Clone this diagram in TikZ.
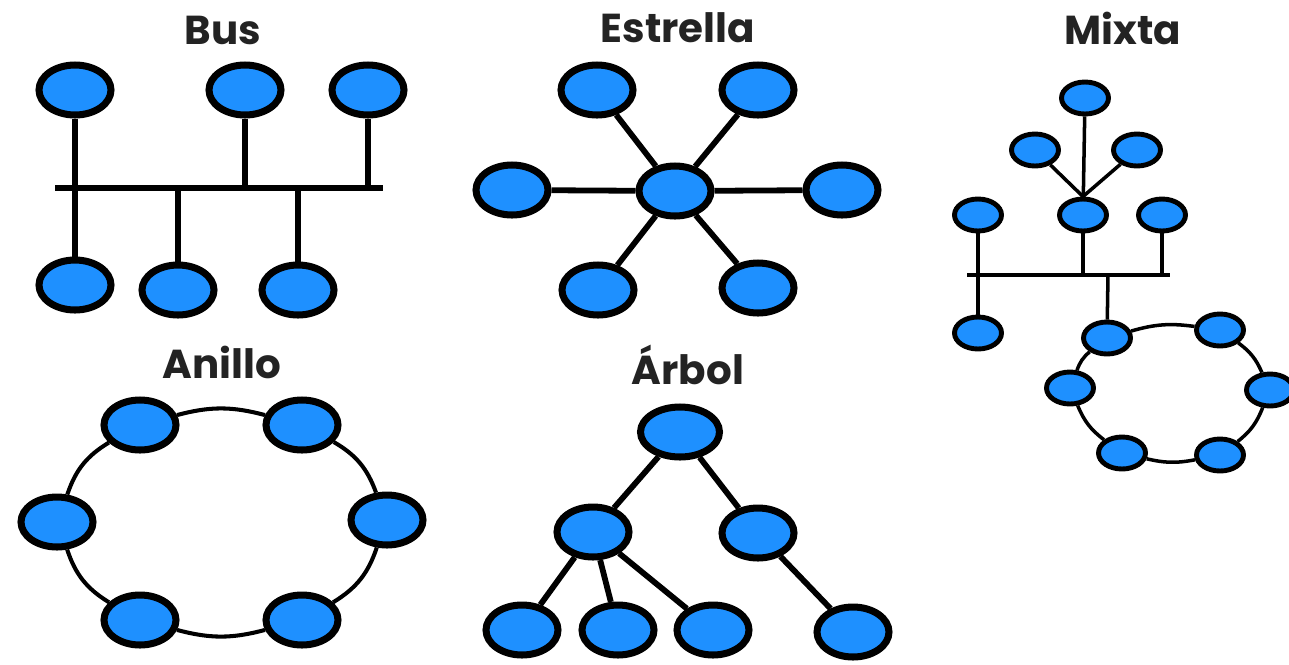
\documentclass[tikz,border=0pt]{standalone}
\usepackage{fontspec}
\usetikzlibrary{shapes.geometric}
\newfontfamily\titlefont{Poppins}
\definecolor{nodeblue}{RGB}{30,144,255}
\definecolor{titlegray}{RGB}{35,35,35}

\begin{document}
\begin{tikzpicture}[x=0.02cm,y=-0.02cm,
  host/.style={ellipse, draw=black, fill=nodeblue, line width=4pt,
               minimum width=1.44cm, minimum height=1.0cm, inner sep=0pt},
  smallhost/.style={host, line width=2.8pt, minimum width=0.94cm, minimum height=0.64cm},
  roothost/.style={host, minimum width=1.58cm},
  link/.style={line width=3.3pt},
  ringlink/.style={line width=2.3pt},
  minilink/.style={line width=2pt},
  title/.style={font=\titlefont\fontsize{23}{25}\selectfont\bfseries, text=titlegray}]

\useasboundingbox[fill=white] (0,0) rectangle (1289,664);

% ---------------- Bus ----------------
\node[title] (tbus) at (223,30) {Bus};
\node[host] (bu1) at (75,90) {};
\node[host] (bu2) at (245,90) {};
\node[host] (bu3) at (368,90) {};
\node[host] (bd1) at (75,285) {};
\node[host] (bd2) at (178,290) {};
\node[host] (bd3) at (298,290) {};
\coordinate (busW) at (55,188);
\coordinate (busE) at (383,188);
\draw[link] (busW) -- (busE);
\draw[link] (bu1) -- (bd1);
\draw[link] (bu2) -- (bu2 |- busW);
\draw[link] (bu3) -- (bu3 |- busW);
\draw[link] (bd2) -- (bd2 |- busW);
\draw[link] (bd3) -- (bd3 |- busW);

% ---------------- Estrella ----------------
\node[title] (tstar) at (678,28) {Estrella};
\node[host] (hub) at (675,191) {};
\node[host] (s1) at (597,90) {};
\node[host] (s2) at (758,90) {};
\node[host] (s3) at (512,190) {};
\node[host] (s4) at (842,190) {};
\node[host] (s5) at (598,290) {};
\node[host] (s6) at (758,288) {};
\foreach \s in {s1,s2,s3,s4,s5,s6}
  \draw[link] (hub) -- (\s);

% ---------------- Mixta ----------------
\node[title] (tmix) at (1123,28) {Mixta};
\node[smallhost] (m1) at (1085,98) {};
\node[smallhost] (m2) at (1035,150) {};
\node[smallhost] (m3) at (1137,150) {};
\node[smallhost] (m4) at (978,215) {};
\node[smallhost] (m5) at (1083,215) {};
\node[smallhost] (m6) at (1162,215) {};
\node[smallhost] (m7) at (978,333) {};
\draw[minilink] (m1) -- (m5);
\draw[minilink] (m2) -- (m5.north);
\draw[minilink] (m3) -- (m5.north);
\coordinate (mbusW) at (967,275);
\coordinate (mbusE) at (1170,275);
\coordinate (mtap) at (1108,275);
\draw[minilink] (mbusW) -- (mbusE);
\draw[minilink] (m4) -- (m7);
\draw[minilink] (m5) -- (m5 |- mbusW);
\draw[minilink] (m6) -- (m6 |- mbusW);
% ring hanging from the bus
\node[smallhost] (r1) at (1107,338) {};
\node[smallhost] (r2) at (1220,330) {};
\node[smallhost] (r3) at (1270,390) {};
\node[smallhost] (r4) at (1220,455) {};
\node[smallhost] (r5) at (1122,453) {};
\node[smallhost] (r6) at (1070,388) {};
\draw[minilink] (mtap) -- (r1);
\draw[minilink] (r1) to[bend left=12] (r2);
\draw[minilink] (r2) to[bend left=15] (r3);
\draw[minilink] (r3) to[bend left=15] (r4);
\draw[minilink] (r4) to[bend left=12] (r5);
\draw[minilink] (r5) to[bend left=15] (r6);
\draw[minilink] (r6) to[bend left=15] (r1);

% ---------------- Anillo ----------------
\node[title] (tring) at (222,362) {Anillo};
\node[host] (a1) at (140,425) {};
\node[host] (a2) at (302,425) {};
\node[host] (a3) at (387,520) {};
\node[host] (a4) at (302,620) {};
\node[host] (a5) at (140,620) {};
\node[host] (a6) at (57,522) {};
\draw[ringlink] (a1) to[bend left=15] (a2);
\draw[ringlink] (a2) to[bend left=20] (a3);
\draw[ringlink] (a3) to[bend left=20] (a4);
\draw[ringlink] (a4) to[bend left=15] (a5);
\draw[ringlink] (a5) to[bend left=20] (a6);
\draw[ringlink] (a6) to[bend left=20] (a1);

% ---------------- Arbol ----------------
\node[title] (ttree) at (688,365) {Árbol};
\node[roothost] (root) at (680,432) {};
\node[host] (t1) at (593,532) {};
\node[host] (t2) at (758,533) {};
\node[host] (t3) at (522,630) {};
\node[host] (t4) at (618,630) {};
\node[host] (t5) at (713,630) {};
\node[host] (t6) at (853,632) {};
\draw[link] (root) -- (t1);
\draw[link] (root) -- (t2);
\draw[link] (t1) -- (t3);
\draw[link] (t1) -- (t4);
\draw[link] (t1) -- (t5);
\draw[link] (t2) -- (t6);

\end{tikzpicture}
\end{document}
